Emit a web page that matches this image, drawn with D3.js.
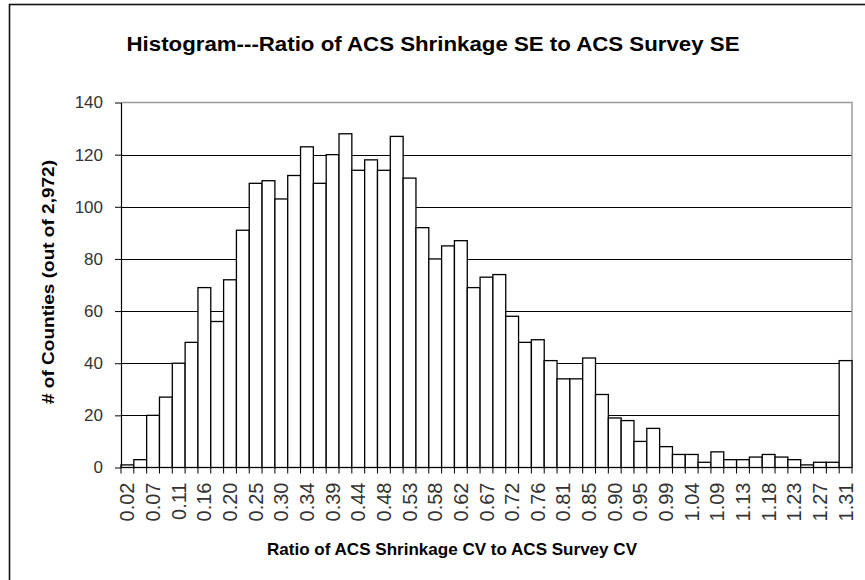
<!DOCTYPE html>
<html>
<head>
<meta charset="utf-8">
<script src="https://cdn.jsdelivr.net/npm/d3@7"></script>
<style>
  body { margin: 0; background: #fff; }
  svg { display: block; font-family: Arial, "Liberation Sans", sans-serif; }
</style>
</head>
<body>
<script>
// counts per bin (57 bins, 0.02 .. 1.31), total ~2,972
const counts = [1, 3, 20, 27, 40, 48, 69, 56, 72, 91,
  109, 110, 103, 112, 123, 109, 120, 128, 114, 118,
  114, 127, 111, 92, 80, 85, 87, 69, 73, 74,
  58, 48, 49, 41, 34, 34, 42, 28, 19, 18,
  10, 15, 8, 5, 5, 2, 6, 3, 3, 4,
  5, 4, 3, 1, 2, 2, 41]

// labels shown on every other bin
const tickLabels = ["0.02", "0.07", "0.11", "0.16", "0.20", "0.25", "0.30", "0.34", "0.39", "0.44",
  "0.48", "0.53", "0.58", "0.62", "0.67", "0.72", "0.76", "0.81", "0.85", "0.90",
  "0.95", "0.99", "1.04", "1.09", "1.13", "1.18", "1.23", "1.27", "1.31"]

const yTicks = [0, 20, 40, 60, 80, 100, 120, 140]

const width = 865, height = 580
const plot = { left: 121, right: 852, top: 102.5, bottom: 467.5 }

const svg = d3.select("body").append("svg")
  .attr("width", width)
  .attr("height", height)

// outer chart frame
svg.append("rect")
  .attr("x", 9.5).attr("y", 4.5)
  .attr("width", 900).attr("height", 600)
  .attr("fill", "#fff")
  .attr("stroke", "#111")
  .attr("stroke-width", 1.6)

const x = d3.scaleBand()
  .domain(d3.range(counts.length))
  .range([plot.left, plot.right])
  .padding(0)

const y = d3.scaleLinear()
  .domain([0, 140])
  .range([plot.bottom, plot.top])

// gridlines
svg.append("g")
  .selectAll("line")
  .data(yTicks.filter(d => d > 0 && d < 140))
  .join("line")
  .attr("x1", plot.left).attr("x2", plot.right)
  .attr("y1", d => Math.round(y(d)) + 0.5)
  .attr("y2", d => Math.round(y(d)) + 0.5)
  .attr("stroke", "#000")
  .attr("stroke-width", 1)

// plot area border (top and right, grey)
svg.append("path")
  .attr("d", `M${plot.left},${plot.top}H${plot.right}V${plot.bottom}`)
  .attr("fill", "none")
  .attr("stroke", "#9a9a9a")
  .attr("stroke-width", 1.5)

// bars
svg.append("g")
  .selectAll("rect")
  .data(counts)
  .join("rect")
  .attr("x", (d, i) => x(i))
  .attr("y", d => y(d))
  .attr("width", x.bandwidth())
  .attr("height", d => y(0) - y(d))
  .attr("fill", "#fff")
  .attr("stroke", "#000")
  .attr("stroke-width", 1.3)

// y axis
const yAxis = svg.append("g")
  .attr("transform", `translate(${plot.left},0)`)
  .call(d3.axisLeft(y).tickValues(yTicks).tickSize(6).tickPadding(12).tickSizeOuter(0))
yAxis.select(".domain").attr("stroke", "#000").attr("stroke-width", 1.2)
yAxis.selectAll(".tick line").attr("stroke", "#000")
yAxis.selectAll("text")
  .attr("font-size", 17)
  .attr("font-family", "Arial, 'Liberation Sans', sans-serif")
  .attr("fill", "#333")

// x axis: ticks on bin boundaries
const xAxis = svg.append("g")
  .attr("transform", `translate(0,${plot.bottom})`)
xAxis.append("line")
  .attr("x1", plot.left).attr("x2", plot.right)
  .attr("stroke", "#000").attr("stroke-width", 1.2)
xAxis.selectAll(".tk")
  .data(d3.range(counts.length + 1))
  .join("line")
  .attr("class", "tk")
  .attr("x1", i => i < counts.length ? x(i) : plot.right)
  .attr("x2", i => i < counts.length ? x(i) : plot.right)
  .attr("y1", 0).attr("y2", 6)
  .attr("stroke", "#000")
xAxis.selectAll("text")
  .data(tickLabels)
  .join("text")
  .attr("transform", (d, i) => `translate(${x(i * 2) + x.bandwidth() / 2 + 7},15) rotate(-90)`)
  .attr("text-anchor", "end")
  .attr("font-size", 20)
  .attr("fill", "#333")
  .text(d => d)

// titles
svg.append("text")
  .attr("x", 433).attr("y", 51)
  .attr("text-anchor", "middle")
  .attr("font-size", 20)
  .attr("font-weight", "bold")
  .attr("textLength", 613)
  .attr("lengthAdjust", "spacingAndGlyphs")
  .text("Histogram---Ratio of ACS Shrinkage SE to ACS Survey SE")

svg.append("text")
  .attr("x", 452).attr("y", 555)
  .attr("text-anchor", "middle")
  .attr("font-size", 17)
  .attr("font-weight", "bold")
  .attr("textLength", 370)
  .attr("lengthAdjust", "spacingAndGlyphs")
  .text("Ratio of ACS Shrinkage CV to ACS Survey CV")

svg.append("text")
  .attr("transform", "translate(54,282) rotate(-90)")
  .attr("text-anchor", "middle")
  .attr("font-size", 17)
  .attr("font-weight", "bold")
  .attr("textLength", 244)
  .attr("lengthAdjust", "spacingAndGlyphs")
  .text("# of Counties (out of 2,972)")
</script>
</body>
</html>
